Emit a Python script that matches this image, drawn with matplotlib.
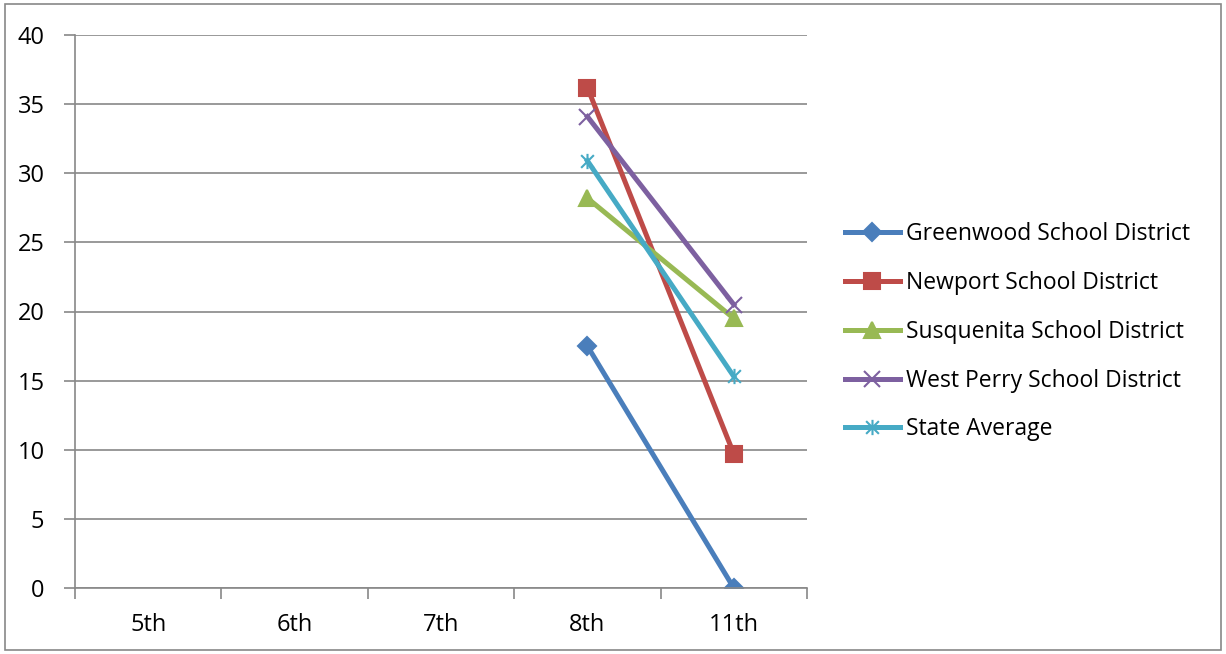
import matplotlib.pyplot as plt
from matplotlib.path import Path
from matplotlib.patches import Rectangle

# data
grades = ['5th', '6th', '7th', '8th', '11th']
greenwood = [None, None, None, 17.5, 0.0]
newport = [None, None, None, 36.2, 9.7]
susquenita = [None, None, None, 28.2, 19.5]
west_perry = [None, None, None, 34.1, 20.5]
state_avg = [None, None, None, 30.9, 15.3]

# excel style star: x plus a vertical bar
star = Path([(-1, -1), (1, 1), (-1, 1), (1, -1), (0, -1.2), (0, 1.2)],
            [Path.MOVETO, Path.LINETO, Path.MOVETO, Path.LINETO, Path.MOVETO, Path.LINETO])

series = [
    ('Greenwood School District', greenwood, '#4A7EBB', 'D', 9),
    ('Newport School District', newport, '#BE4B48', 's', 11),
    ('Susquenita School District', susquenita, '#98B954', '^', 11),
    ('West Perry School District', west_perry, '#7D60A0', 'x', 11),
    ('State Average', state_avg, '#46AAC5', star, 11),
]

plt.rcParams['font.family'] = ['Open Sans', 'DejaVu Sans']

fig = plt.figure(figsize=(12.26, 6.54), dpi=100)
ax = fig.add_axes([75 / 1226, 1 - 588 / 654, (807 - 75) / 1226, (588 - 35) / 654])

# figure border
fig.patches.append(Rectangle((5 / 1226, 4 / 654), 1216 / 1226, 646 / 654, transform=fig.transFigure,
                             fill=False, edgecolor='#888888', linewidth=1.2))

x = list(range(len(grades)))
for name, vals, col, mk, ms in series:
    xs = [i for i, v in zip(x, vals) if v is not None]
    ys = [v for v in vals if v is not None]
    ax.plot(xs, ys, color=col, linewidth=3.6, marker=mk, markersize=ms,
            markeredgecolor=col, markerfacecolor=col, markeredgewidth=1.5, label=name)

ax.set_xlim(-0.5, len(grades) - 0.5)
ax.set_ylim(0, 40)
ax.set_yticks(range(0, 41, 5))
ax.set_xticks([i - 0.5 for i in range(len(grades) + 1)])
ax.set_xticklabels([])
ax.set_xticks(x, minor=True)
ax.set_xticklabels(grades, minor=True)
ax.tick_params(axis='x', which='minor', length=0, pad=18, labelsize=17)
ax.tick_params(axis='x', which='major', length=8, color='#888888', width=1.2)
ax.tick_params(axis='y', length=8, color='#888888', width=1.2, labelsize=17, pad=14)
ax.grid(axis='y', color='#888888', linewidth=1.2)
ax.set_axisbelow(True)
for s in ['top', 'right']:
    ax.spines[s].set_visible(False)
for s in ['left', 'bottom']:
    ax.spines[s].set_color('#888888')
    ax.spines[s].set_linewidth(1.2)

ax.legend(loc='center left', bbox_to_anchor=(1.039, 0.463), frameon=False, fontsize=16.5,
          handlelength=2.4, handletextpad=0.26, labelspacing=1.08, borderaxespad=0)

fig.savefig('out.png', dpi=100)
